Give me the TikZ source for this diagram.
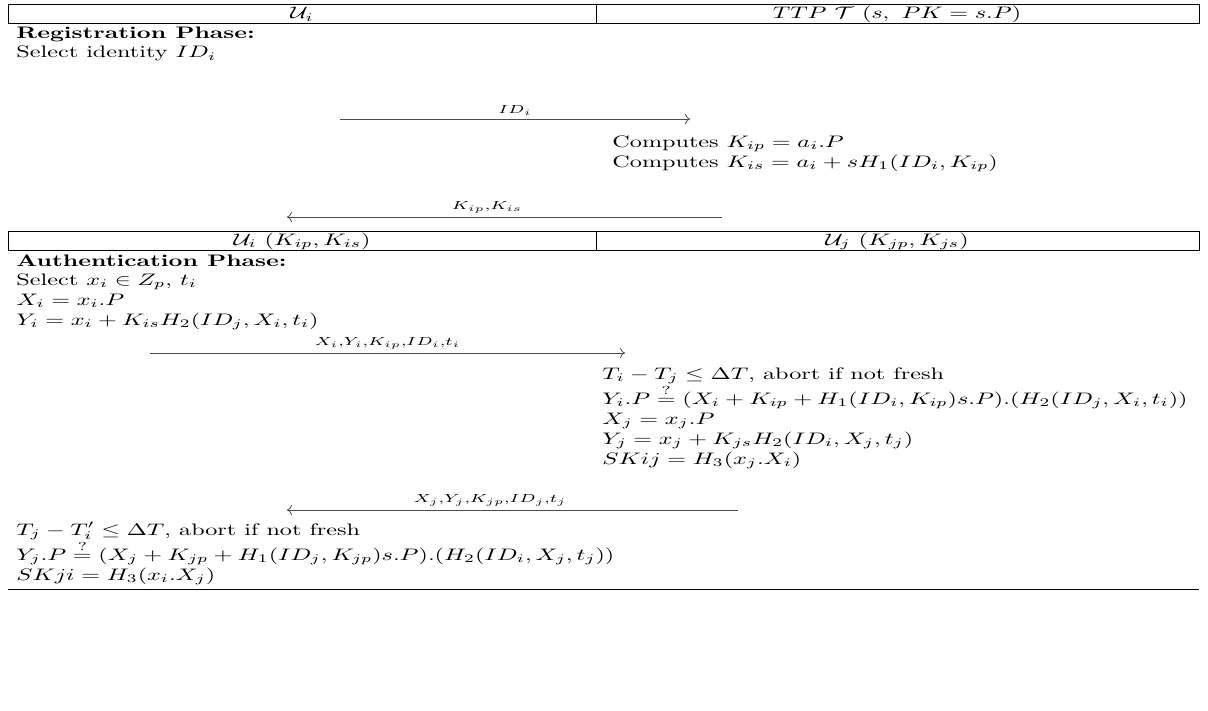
\documentclass[tikz,border=0pt]{standalone}
\usepackage{amsmath,amssymb}
\usetikzlibrary{positioning,arrows.meta}

\begin{document}
\begin{tikzpicture}[x=0.6pt,y=-0.6pt,
    txt/.style={anchor=base west, inner sep=0pt, xscale=1.45},
    hdr/.style={anchor=base, inner sep=0pt, xscale=1.45},
    msg/.style={draw=black!70, line width=0.5pt, -{To[length=3pt,width=6pt]}},
    lbl/.style={above=1pt, font=\scriptsize, inner sep=1pt, xscale=1.45}]
  \useasboundingbox (0,0) rectangle (1208,711);
  % header rows
  \draw[line width=0.6pt] (8,5) rectangle (1199,24) (596,5) -- (596,24);
  \node[hdr] (hUi) at (302,19) {$\mathcal{U}_i$};
  \node[hdr] (hT) at (897,19) {$TTP\ \mathcal{T}\ (s,\ PK=s.P)$};
  \draw[line width=0.6pt] (8,231) rectangle (1199,250) (596,231) -- (596,250);
  \node[hdr] (hUik) at (302,245) {$\mathcal{U}_i\ (K_{ip},K_{is})$};
  \node[hdr] (hUjk) at (897,245) {$\mathcal{U}_j\ (K_{jp},K_{js})$};
  % registration phase
  \node[txt] (reg) at (16,39) {\textbf{Registration Phase:}};
  \node[txt] (sel) at (16,58) {Select identity $ID_i$};
  \node[txt] (kip) at (612,147) {Computes $K_{ip}=a_i.P$};
  \node[txt] (kis) at (612,167) {Computes $K_{is}=a_i+sH_1(ID_i,K_{ip})$};
  \coordinate (m1s) at (340,119);
  \coordinate (m1e) at (690,119);
  \draw[msg] (m1s) -- node[lbl] (l1) {$ID_i$} (m1e);
  \coordinate (m2s) at (722,217);
  \coordinate (m2e) at (287,217);
  \draw[msg] (m2s) -- node[lbl, pos=0.54] (l2) {$K_{ip}$,$K_{is}$} (m2e);
  % authentication phase
  \node[txt] (auth) at (16,266) {\textbf{Authentication Phase:}};
  \node[txt] (selx) at (16,285) {Select $x_i\in Z_p$, $t_i$};
  \node[txt] (xi) at (16,305) {$X_i=x_i.P$};
  \node[txt] (yi) at (16,325) {$Y_i=x_i+K_{is}H_2(ID_j,X_i,t_i)$};
  \coordinate (m3s) at (150,353);
  \coordinate (m3e) at (625,353);
  \draw[msg] (m3s) -- node[lbl] (l3) {$X_i$,$Y_i$,$K_{ip}$,$ID_i$,$t_i$} (m3e);
  \node[txt] (tij) at (602,379) {$T_i-T_j\leq\Delta T$, abort if not fresh};
  \node[txt] (vi) at (602,404) {$Y_i.P\stackrel{?}{=}(X_i+K_{ip}+H_1(ID_i,K_{ip})s.P).(H_2(ID_j,X_i,t_i))$};
  \node[txt] (xj) at (602,424) {$X_j=x_j.P$};
  \node[txt] (yj) at (602,444) {$Y_j=x_j+K_{js}H_2(ID_i,X_j,t_j)$};
  \node[txt] (skij) at (602,464) {$SKij=H_3(x_j.X_i)$};
  \coordinate (m4s) at (738,510);
  \coordinate (m4e) at (287,510);
  \draw[msg] (m4s) -- node[lbl, pos=0.55] (l4) {$X_j$,$Y_j$,$K_{jp}$,$ID_j$,$t_j$} (m4e);
  \node[txt] (tji) at (16,535) {$T_j-T'_i\leq\Delta T$, abort if not fresh};
  \node[txt] (vj) at (16,560) {$Y_j.P\stackrel{?}{=}(X_j+K_{jp}+H_1(ID_j,K_{jp})s.P).(H_2(ID_i,X_j,t_j))$};
  \node[txt] (skji) at (16,580) {$SKji=H_3(x_i.X_j)$};
  \draw[line width=0.6pt] (8,589) -- (1199,589);
\end{tikzpicture}
\end{document}
